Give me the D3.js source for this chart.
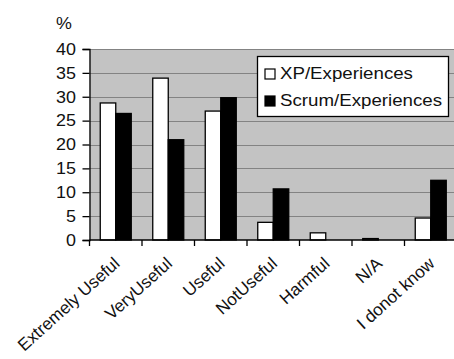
<!DOCTYPE html>
<html>
<head>
<meta charset="utf-8">
<script src="https://cdn.jsdelivr.net/npm/d3@7/dist/d3.min.js"></script>
<style>
  html, body { margin: 0; padding: 0; background: #fff; }
  svg { display: block; font-family: "Liberation Sans", Arial, sans-serif; }
</style>
</head>
<body>
<svg id="chart" width="454" height="359"></svg>
<script>
// Survey answers and percentages per method
const categories = ["Extremely Useful", "VeryUseful", "Useful", "NotUseful", "Harmful", "N/A", "I donot know"];
const xpValues = [28.7, 33.9, 27.0, 3.7, 1.5, 0.3, 4.6];
const scrumValues = [26.5, 21.0, 29.8, 10.7, 0, 0, 12.5];
const seriesNames = ["XP/Experiences", "Scrum/Experiences"];
const yTicks = [0, 5, 10, 15, 20, 25, 30, 35, 40];

const svg = d3.select("#chart");
const margin = { left: 89.5, top: 49, right: -3, bottom: 119 };
const W = 454, H = 359;
const plotW = W - margin.left - margin.right;
const plotH = H - margin.top - margin.bottom;
const stretch = 1.12; // wide lettering

const x = d3.scaleBand().domain(categories).range([margin.left, margin.left + plotW]).paddingInner(0).paddingOuter(0);
const y = d3.scaleLinear().domain([0, 40]).range([margin.top + plotH, margin.top]);

// plot background
svg.append("rect")
  .attr("x", margin.left).attr("y", margin.top)
  .attr("width", plotW).attr("height", plotH)
  .attr("fill", "#c3c3c3");

// horizontal gridlines
svg.append("g").selectAll("line")
  .data(yTicks.filter(d => d > 0))
  .join("line")
  .attr("x1", margin.left).attr("x2", margin.left + plotW)
  .attr("y1", d => Math.round(y(d)) + 0.5).attr("y2", d => Math.round(y(d)) + 0.5)
  .attr("stroke", "#838383").attr("stroke-width", 1);

// bars
const barW = 15.5;
const groupOffset = (x.bandwidth() - 2 * barW) / 2;
const series = [
  { name: seriesNames[0], values: xpValues, fill: "#ffffff" },
  { name: seriesNames[1], values: scrumValues, fill: "#000000" }
];
series.forEach((s, si) => {
  svg.append("g").selectAll("rect")
    .data(categories.map((c, i) => ({ c, v: s.values[i] })).filter(d => d.v > 0))
    .join("rect")
    .attr("x", d => x(d.c) + groupOffset + si * barW)
    .attr("y", d => y(d.v))
    .attr("width", barW)
    .attr("height", d => y(0) - y(d.v))
    .attr("fill", s.fill)
    .attr("stroke", "#000").attr("stroke-width", 1.3);
});

// y axis: line and ticks from d3, labels drawn wide
const yAxis = d3.axisLeft(y).tickValues(yTicks).tickSize(7).tickFormat("");
const gy = svg.append("g").attr("transform", `translate(${margin.left},0)`).call(yAxis);
gy.select(".domain").attr("stroke", "#000").attr("stroke-width", 1.3);
gy.selectAll(".tick line").attr("stroke", "#000").attr("stroke-width", 1.3);
svg.append("g").selectAll("text")
  .data(yTicks)
  .join("text")
  .attr("transform", d => `translate(76,${y(d) + 5.8}) scale(${stretch},1)`)
  .attr("text-anchor", "end")
  .attr("font-size", 16)
  .attr("fill", "#111")
  .text(d => d);

// x axis with ticks on category boundaries
const gx = svg.append("g").attr("transform", `translate(0,${y(0)})`);
gx.append("line")
  .attr("x1", margin.left).attr("x2", margin.left + plotW)
  .attr("y1", 0).attr("y2", 0)
  .attr("stroke", "#000").attr("stroke-width", 1.3);
gx.selectAll("line.tk")
  .data(categories)
  .join("line").attr("class", "tk")
  .attr("x1", d => x(d)).attr("x2", d => x(d))
  .attr("y1", 0).attr("y2", 6)
  .attr("stroke", "#000").attr("stroke-width", 1.3);
gx.selectAll("text")
  .data(categories)
  .join("text")
  .attr("transform", d => `translate(${x(d) + x.bandwidth() / 2 + 5},${25}) rotate(-42)`)
  .attr("text-anchor", "end")
  .attr("font-size", 17.2)
  .attr("fill", "#111")
  .text(d => d);

// unit label
svg.append("text")
  .attr("transform", "translate(56,29) scale(1.05,1)")
  .attr("font-size", 17).attr("fill", "#111")
  .text("%");

// legend
const lg = svg.append("g");
lg.append("rect")
  .attr("x", 257.5).attr("y", 56.5).attr("width", 191).attr("height", 60)
  .attr("fill", "#fff").attr("stroke", "#000").attr("stroke-width", 1.3);
series.forEach((s, i) => {
  const cy = 73 + i * 27;
  lg.append("rect")
    .attr("x", 265).attr("y", cy - 4).attr("width", 10).attr("height", 10)
    .attr("fill", s.fill).attr("stroke", "#000").attr("stroke-width", 1.2);
  lg.append("text")
    .attr("transform", `translate(280,${cy + 6}) scale(1.1,1)`)
    .attr("font-size", 17).attr("fill", "#111")
    .text(s.name);
});
</script>
</body>
</html>
